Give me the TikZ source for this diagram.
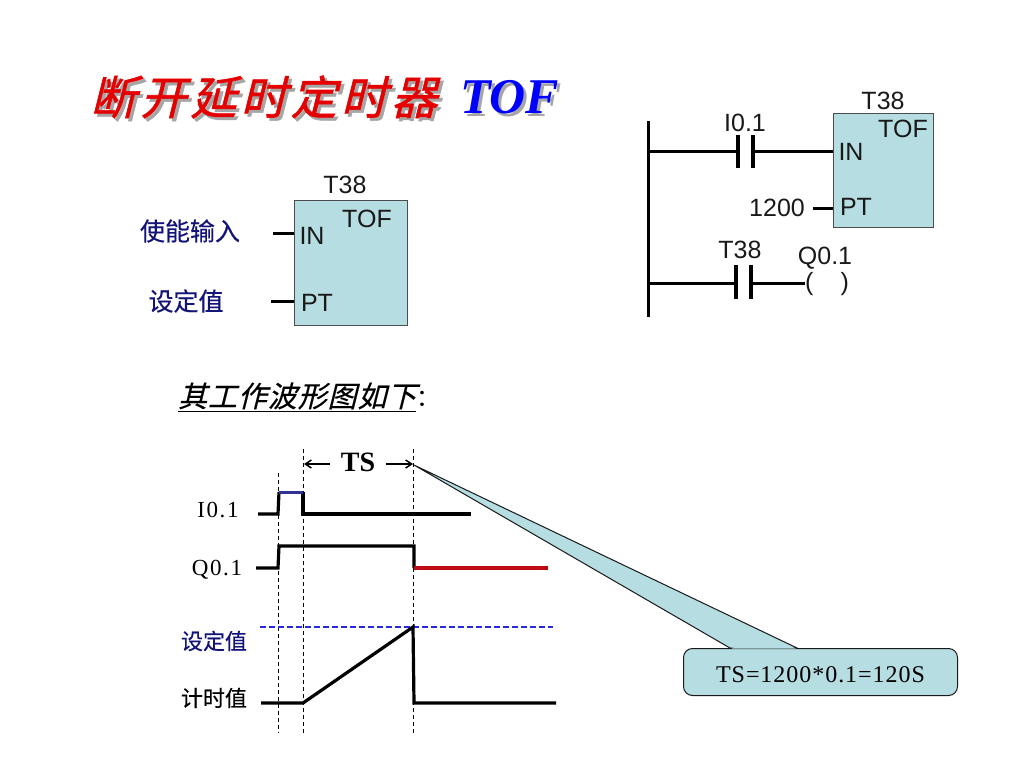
\documentclass[tikz,border=0pt]{standalone}
\usepackage{fontspec}
\usetikzlibrary{arrows.meta}
\setmainfont{Liberation Sans}
\newfontfamily\cjk[FakeBold=0.4]{Noto Sans CJK SC}
\newfontfamily\cjkplain{Noto Sans CJK SC}
\newfontfamily\cjkslant[FakeSlant=0.25,FakeBold=1.2,LetterSpace=9]{Noto Sans CJK SC}
\newfontfamily\cjkital[FakeSlant=0.25,FakeBold=0.4,LetterSpace=3]{Noto Sans CJK SC}
\newfontfamily\romanbi[Ligatures=TeX]{Liberation Serif}
\newfontfamily\simfont[LetterSpace=4]{Liberation Serif}
\newfontfamily\simwide[LetterSpace=7]{Liberation Serif}
\definecolor{boxfill}{RGB}{182,221,226}
\definecolor{navytext}{RGB}{20,20,120}
\definecolor{pulseblue}{RGB}{50,50,150}
\definecolor{darkred}{RGB}{190,10,20}
\definecolor{limitblue}{RGB}{40,40,220}
\tikzset{
  every node/.style={inner sep=0},
  txtlabel/.style={font=\fontsize{25}{25}\selectfont,text=black!90},
  cjklabel/.style={font=\fontsize{25}{25}\selectfont\cjk},
  wave/.style={line width=3.2pt},
  rung/.style={line width=3pt},
  guide/.style={line width=0.9pt,dash pattern=on 4pt off 3pt},
  fbbox/.style={draw=black!70,fill=boxfill,line width=1pt,anchor=north west},
  contact/.style={line width=4pt}
}
\begin{document}
\begin{tikzpicture}[x=1pt,y=-1pt]
  \useasboundingbox (0,0) rectangle (1024,768);

  % title
  \node[text=black!35,font=\fontsize{46}{46}\selectfont\cjkslant,anchor=west] (shadow1) at (93,100) {断开延时定时器};
  \node[text=red!90!black,font=\fontsize{46}{46}\selectfont\cjkslant,anchor=west] (title1) at (90,97) {断开延时定时器};
  \node[text=black!35,font=\fontsize{50}{50}\selectfont\romanbi\bfseries\itshape,anchor=west] (shadow2) at (463,100) {TOF};
  \node[text=blue,font=\fontsize{50}{50}\selectfont\romanbi\bfseries\itshape,anchor=west] (title2) at (460,97) {TOF};

  % left block
  \node[fbbox,minimum width=113pt,minimum height=125pt] (blk) at (294,200) {};
  \node[txtlabel] (blkname) at (345,185) {T38};
  \node[txtlabel] (blktype) at (367,219) {TOF};
  \node[txtlabel] (in) at (312,236) {IN};
  \node[txtlabel] (pt) at (317,303) {PT};
  \node[cjklabel,text=navytext] (en) at (190,231) {使能输入};
  \node[cjklabel,text=navytext] (sv) at (186,301) {设定值};
  \coordinate (inl) at (273,233);
  \coordinate (ptl) at (271,301);
  \draw[rung] (inl) -- (inl -| blk.west);
  \draw[rung] (ptl) -- (ptl -| blk.west);

  % ladder
  \coordinate (railt) at (648,121);
  \coordinate (railb) at (648,317);
  \draw[rung] (railt) -- (railb);
  \node[fbbox,minimum width=100pt,minimum height=114pt] (blk2) at (833,113) {};
  \node[txtlabel] (blk2name) at (883,101) {T38};
  \node[txtlabel] (blk2type) at (903,129) {TOF};
  \node[txtlabel] (in2) at (851,152) {IN};
  \node[txtlabel] (pt2) at (856,207) {PT};
  \node[txtlabel] (i1) at (745,123) {I0.1};
  \node[txtlabel] (val) at (777,208) {1200};
  \node[txtlabel] (t1) at (740,250) {T38};
  \node[txtlabel] (q) at (825,258) {Q0.1};
  \node[txtlabel] (coil) at (827,284) {(\hspace{27pt})};

  \coordinate (c1a) at (738,151);
  \coordinate (c1b) at (753,151);
  \coordinate (c2a) at (736,283);
  \coordinate (c2b) at (751,283);
  \coordinate (ptw) at (813,208);
  \draw[rung] (railt |- c1a) -- (c1a);
  \draw[rung] (c1b) -- (c1b -| blk2.west);
  \draw[contact] (738,135) -- (738,168);
  \draw[contact] (753,135) -- (753,168);
  \draw[rung] (railt |- c2a) -- (c2a);
  \draw[rung] (c2b) -- (c2b -| coil.west);
  \draw[contact] (736,265) -- (736,299);
  \draw[contact] (751,265) -- (751,299);
  \draw[rung] (ptw) -- (ptw -| blk2.west);

  % heading
  \node[font=\fontsize{29}{29}\selectfont\cjkital,anchor=west] (head) at (178,397) {\underline{其工作波形图如下}{\cjkplain\fontsize{24}{24}\selectfont：}};

  % callout
  \draw[draw=black!90,fill=boxfill,line width=1pt] (414,465) -- (730,648) -- (797,648) -- cycle;
  \node[draw=black!90,fill=boxfill,line width=1pt,rounded corners=9pt,minimum width=274pt,minimum height=47pt,anchor=north west,font=\fontsize{24}{24}\selectfont\simfont] (ts) at (683,648) {\raisebox{-10.5pt}[0pt][0pt]{TS=1200*0.1=120S}};
  \fill[boxfill] (732,648.6) -- (796,648.6) -- (790,646) -- (735,646) -- cycle;

  % guide lines
  \draw[guide] (278,473) -- (278,733);
  \draw[guide] (303,449) -- (303,735);
  \draw[guide] (413,449) -- (413,734);
  \draw[limitblue,line width=1.2pt,dash pattern=on 6pt off 3pt] (260,627) -- (553,627);

  % waveforms
  \node[font=\fontsize{23}{23}\selectfont\simwide] (i01) at (218,510) {I0.1};
  \node[font=\fontsize{23}{23}\selectfont\simwide] (q01) at (217,570) {Q0.1};
  \node[font=\fontsize{22}{22}\selectfont\cjk,text=navytext] (sv2) at (214,641) {设定值};
  \node[font=\fontsize{22}{22}\selectfont\cjk] (tv) at (214,698) {计时值};
  \draw[wave] (258,514) -- (278,514) -- (279,492);
  \draw[wave] (303,492) -- (303,514) -- (471,514);
  \draw[line width=3pt,pulseblue] (279,492) -- (303,492);
  \draw[wave] (256,568) -- (278,568) -- (279,546) -- (414,546) -- (414,568);
  \draw[wave,darkred] (414,568) -- (548,568);
  \draw[wave] (261,703) -- (303,703) -- (413,627) -- (414,703) -- (556,703);

  % TS dimension
  \node[font=\fontsize{28}{28}\selectfont\romanbi\bfseries] (tslab) at (358,462) {TS};
  \coordinate (tsl) at (304,464);
  \coordinate (tsr) at (413,464);
  \draw[line width=1.5pt,-{Straight Barb[length=6pt,width=8pt]}] (330,464) -- (tsl);
  \draw[line width=1.5pt,-{Straight Barb[length=6pt,width=8pt]}] (386,464) -- (tsr);
\end{tikzpicture}
\end{document}
